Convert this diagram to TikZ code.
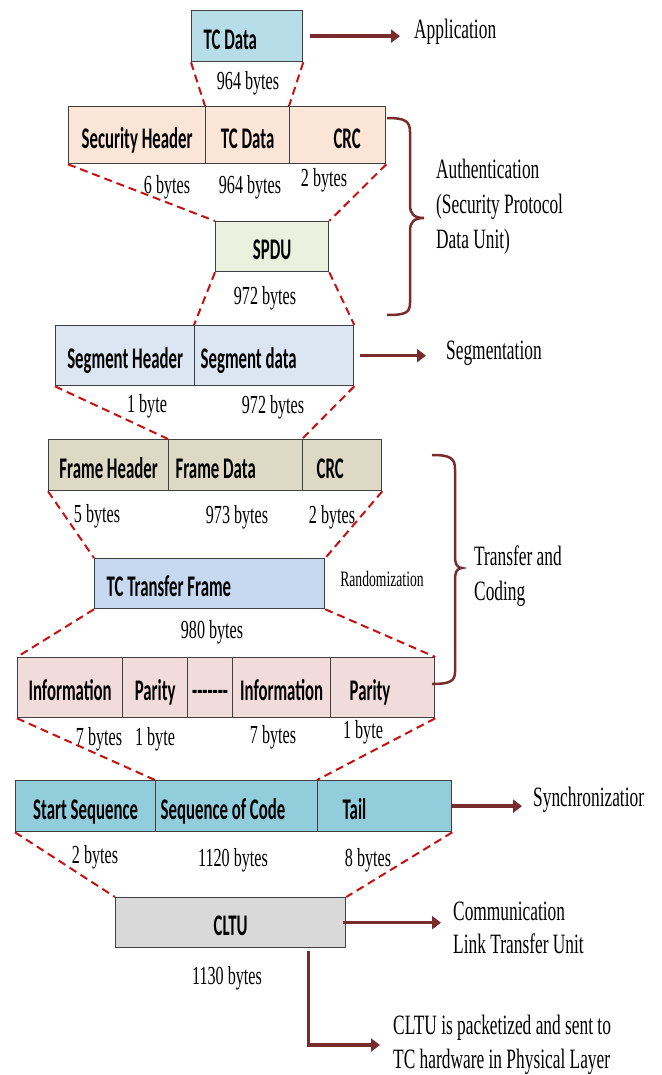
\documentclass[tikz,border=0pt]{standalone}
\usepackage{fontspec}
\setmainfont{Liberation Serif}[FakeStretch=0.62]
\newfontfamily\boxfont{Carlito}[FakeStretch=0.56]
\usepackage{tikz}
\usetikzlibrary{arrows.meta, positioning, calc}

\definecolor{tcblue}{RGB}{183,222,232}
\definecolor{secpeach}{RGB}{251,229,214}
\definecolor{spdugreen}{RGB}{235,241,222}
\definecolor{segblue}{RGB}{220,230,242}
\definecolor{frametan}{RGB}{221,217,196}
\definecolor{ttfblue}{RGB}{198,217,241}
\definecolor{infopink}{RGB}{242,220,219}
\definecolor{syncblue}{RGB}{146,205,220}
\definecolor{cltugray}{RGB}{217,217,217}
\definecolor{arrowred}{RGB}{122,44,44}
\definecolor{dashred}{RGB}{200,16,16}

\tikzset{
  cell/.style={draw=black!75, line width=1.3pt, anchor=north west, inner sep=0pt,
    text height=26pt, text depth=0pt, font=\boxfont\bfseries\fontsize{30}{30}\selectfont},
  bytes/.style={font=\fontsize{26}{26}\selectfont},
  sidetext/.style={anchor=west, inner sep=0pt, align=left, font=\fontsize{28}{35}\selectfont},
  fanline/.style={dashred, line width=2pt, dash pattern=on 8pt off 5pt},
  flow/.style={-{Triangle[length=9pt,width=13pt]}, line width=3.5pt, arrowred,
    shorten <=7pt, shorten >=14pt},
  curly/.style={arrowred, line width=2.5pt},
}

\begin{document}
\begin{tikzpicture}[x=1pt, y=-1pt]
  \useasboundingbox (0,0) rectangle (661,1075);

  % application data
  \node[cell, fill=tcblue, minimum width=111, minimum height=51, align=flush left,
    inner xsep=12pt, text width=87pt] (tcdata) at (191,10) {TC Data};
  \node[bytes] (b964a) at (248,83) {964 bytes};
  \node[sidetext] (app) at (414,32) {Application};
  \draw[flow] (tcdata.east) -- (tcdata.east -| app.west);

  % security layer
  \node[cell, fill=secpeach, minimum width=137, minimum height=57] (sechdr) at (68,106) {Security Header};
  \node[cell, fill=secpeach, minimum width=84, minimum height=57] (sectc) at (205,106) {TC Data};
  \node[cell, fill=secpeach, minimum width=96, minimum height=57, align=flush right,
    inner xsep=25pt, text width=46pt] (seccrc) at (289,106) {CRC};
  \draw[fanline] (tcdata.south west) -- (sectc.north west);
  \draw[fanline] (tcdata.south east) -- (seccrc.north west);
  \node[bytes] (b6) at (167,187) {6 bytes};
  \node[bytes] (b964b) at (250,187) {964 bytes};
  \node[bytes] (b2a) at (324,180) {2 bytes};

  \node[cell, fill=spdugreen, minimum width=113, minimum height=50] (spdu) at (215,221) {SPDU};
  \draw[fanline] (sechdr.south west) -- (spdu.north west);
  \draw[fanline] (seccrc.south east) -- (spdu.north east);
  \node[bytes] (b972a) at (265,298) {972 bytes};

  \draw[curly] (387,118) .. controls (405,118) and (410,121) .. (410,132) -- (410,205)
    .. controls (410,214) and (414,218) .. (424,218)
    .. controls (414,218) and (410,222) .. (410,231) -- (410,303)
    .. controls (410,313) and (405,315) .. (387,315);
  \node[sidetext] (auth) at (436,207) {Authentication\\(Security Protocol\\Data Unit)};

  % segmentation
  \node[cell, fill=segblue, minimum width=139, minimum height=60] (seghdr) at (55,325) {Segment Header};
  \node[cell, fill=segblue, minimum width=159, minimum height=60, align=flush left,
    inner xsep=6pt, text width=147pt] (segdata) at (194,325) {Segment data};
  \draw[fanline] (spdu.south west) -- (segdata.north west);
  \draw[fanline] (spdu.south east) -- (segdata.north east);
  \node[sidetext] (seg) at (446,353) {Segmentation};
  \draw[flow, shorten <=6pt, shorten >=20pt] (segdata.east) -- (segdata.east -| seg.west);
  \node[bytes] (b1a) at (147,406) {1 byte};
  \node[bytes] (b972b) at (273,407) {972 bytes};

  % transfer frame
  \node[cell, fill=frametan, minimum width=120, minimum height=51] (frhdr) at (48,439) {Frame Header};
  \node[cell, fill=frametan, minimum width=134, minimum height=51, align=flush left,
    inner xsep=7pt, text width=120pt] (frdata) at (168,439) {Frame Data};
  \node[cell, fill=frametan, minimum width=79, minimum height=51, align=flush left,
    inner xsep=14pt, text width=51pt] (frcrc) at (302,439) {CRC};
  \draw[fanline] (seghdr.south west) -- (frdata.north west);
  \draw[fanline] (segdata.south east) -- (frcrc.north west);
  \node[bytes] (b5) at (97,516) {5 bytes};
  \node[bytes] (b973) at (237,517) {973 bytes};
  \node[bytes] (b2b) at (332,517) {2 bytes};

  \node[cell, fill=ttfblue, minimum width=230, minimum height=50, align=flush left,
    inner xsep=12pt, text width=206pt] (ttf) at (94,558) {TC Transfer Frame};
  \draw[fanline] (frhdr.south west) -- (ttf.north west);
  \draw[fanline] (frcrc.south east) -- (ttf.north east);
  \node[font=\fontsize{22}{22}\selectfont] (rand) at (382,579) {Randomization};
  \node[bytes] (b980) at (212,632) {980 bytes};

  % coding
  \node[cell, fill=infopink, minimum width=105, minimum height=60] (info1) at (17,657) {Information};
  \node[cell, fill=infopink, minimum width=65, minimum height=60] (par1) at (122,657) {Parity};
  \node[cell, fill=infopink, minimum width=45, minimum height=60] (gap) at (187,657) {-------};
  \node[cell, fill=infopink, minimum width=98, minimum height=60] (info2) at (232,657) {Information};
  \node[cell, fill=infopink, minimum width=104, minimum height=60, align=flush left,
    inner xsep=19pt, text width=66pt] (par2) at (330,657) {Parity};
  \draw[fanline] (ttf.south west) -- (info1.north west);
  \draw[fanline] (ttf.south east) -- (par2.north east);
  \node[bytes] (b7a) at (99,739) {7 bytes};
  \node[bytes] (b1b) at (155,739) {1 byte};
  \node[bytes] (b7b) at (273,737) {7 bytes};
  \node[bytes] (b1c) at (363,732) {1 byte};

  \draw[curly] (432,455) .. controls (450,455) and (455,458) .. (455,469) -- (455,556)
    .. controls (455,564) and (457,568) .. (462,568)
    .. controls (457,568) and (455,572) .. (455,580) -- (455,672)
    .. controls (455,681) and (450,684) .. (432,684);
  \node[sidetext] (xfer) at (474,576) {Transfer and\\Coding};

  % synchronization
  \node[cell, fill=syncblue, minimum width=140, minimum height=51] (start) at (15,780) {Start Sequence};
  \node[cell, fill=syncblue, minimum width=162, minimum height=51, align=flush left,
    inner xsep=5pt, text width=152pt] (seqcode) at (155,780) {Sequence of Code};
  \node[cell, fill=syncblue, minimum width=134, minimum height=51, align=flush left,
    inner xsep=25pt, text width=84pt] (tail) at (317,780) {Tail};
  \draw[fanline] (info1.south west) -- (seqcode.north west);
  \draw[fanline] (par2.south east) -- (tail.north west);
  \begin{scope}
    \clip (0,0) rectangle (643,1075);
    \node[sidetext] (sync) at (533,800) {Synchronization};
  \end{scope}
  \draw[flow, shorten <=0pt, shorten >=11pt] (tail.east) -- (tail.east -| sync.west);
  \node[bytes] (b2c) at (95,857) {2 bytes};
  \node[bytes] (b1120) at (233,860) {1120 bytes};
  \node[bytes] (b8) at (368,860) {8 bytes};

  % CLTU
  \node[cell, fill=cltugray, minimum width=230, minimum height=50] (cltu) at (115,897) {CLTU};
  \draw[fanline] (start.south west) -- (cltu.north west);
  \draw[fanline] (tail.south east) -- (cltu.north east);
  \node[sidetext, font=\fontsize{28}{33}\selectfont] (comm) at (453,928) {Communication\\Link Transfer Unit};
  \draw[flow, shorten <=-3pt, shorten >=12pt] (cltu.east) -- (cltu.east -| comm.west);
  \node[bytes] (b1130) at (227,978) {1130 bytes};

  \node[sidetext, font=\fontsize{28}{34}\selectfont] (pkt) at (393,1045) {CLTU is packetized and sent to\\TC hardware in Physical Layer};
  \draw[flow, shorten <=0pt, shorten >=13pt] ([xshift=78pt,yshift=-3pt]cltu.south) |- (pkt.west);
\end{tikzpicture}
\end{document}
